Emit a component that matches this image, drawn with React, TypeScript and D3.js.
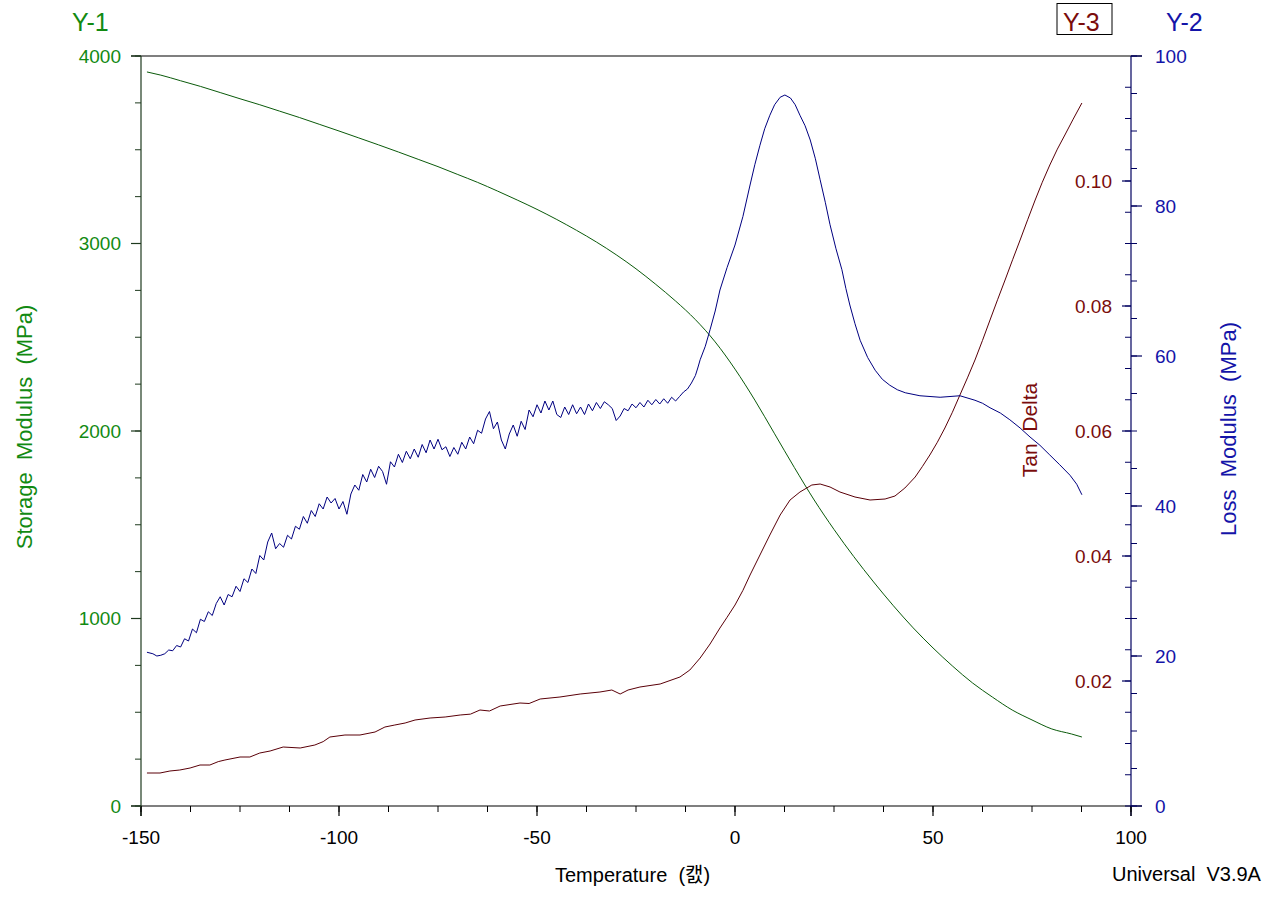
import React from 'react';
import * as d3 from 'd3';

const W = 1269;
const H = 897;

const xTicks = [-150, -100, -50, 0, 50, 100];
const y1Ticks = [0, 1000, 2000, 3000, 4000];
const y2Ticks = [0, 20, 40, 60, 80, 100];
const y3Ticks = [0.02, 0.04, 0.06, 0.08, 0.1];

// Storage modulus (MPa) vs temperature
const storage: [number, number][] = [
  [-148.5, 3915], [-145, 3898], [-140, 3868], [-135, 3838], [-130, 3805], [-125, 3772],
  [-120, 3740], [-115, 3706], [-110, 3672], [-105, 3636], [-100, 3600], [-95, 3563],
  [-90, 3526], [-85, 3488], [-80, 3449], [-75, 3410], [-70, 3368], [-65, 3326],
  [-60, 3280], [-55, 3232], [-50, 3182], [-45, 3128], [-40, 3070], [-35, 3008],
  [-30, 2940], [-25, 2865], [-20, 2782], [-15, 2693], [-10, 2594], [-5, 2475],
  [0, 2330], [5, 2165], [10, 1985], [15, 1805], [20, 1632], [25, 1475], [30, 1330],
  [35, 1195], [40, 1068], [45, 950], [50, 843], [55, 745], [60, 656], [65, 581],
  [70, 512], [75, 459], [80, 411], [85, 384], [87.6, 368],
];

// Loss modulus (MPa) vs temperature
const loss: [number, number][] = [
  [-148.5, 20.5], [-147, 20.3], [-146, 20.0], [-145, 20.1], [-144, 20.3], [-143, 20.8],
  [-142, 20.7], [-141, 21.4], [-140, 21.2], [-139, 22.3], [-138, 22.0], [-137, 23.6],
  [-136, 23.1], [-135, 24.9], [-134, 24.6], [-133, 25.9], [-132, 25.4], [-131, 27.0],
  [-130, 27.9], [-129, 26.8], [-128, 28.2], [-127, 27.9], [-126, 29.3], [-125, 28.6],
  [-124, 30.3], [-123, 29.8], [-122, 31.6], [-121, 31.0], [-120, 33.4], [-119, 32.8],
  [-118, 35.2], [-117, 36.4], [-116, 34.3], [-115, 35.0], [-114, 34.5], [-113, 36.1],
  [-112, 35.6], [-111, 37.3], [-110, 36.9], [-109, 38.6], [-108, 37.7], [-107, 39.4],
  [-106, 38.6], [-105, 40.3], [-104, 39.6], [-103, 41.2], [-102, 40.4], [-101, 41.0],
  [-100, 39.6], [-99, 40.6], [-98, 38.9], [-97, 41.6], [-96, 42.8], [-95, 42.1],
  [-94, 44.2], [-93, 43.2], [-92, 44.9], [-91, 43.8], [-90, 45.3], [-89, 44.6],
  [-88, 42.9], [-87, 45.9], [-86, 45.2], [-85, 46.9], [-84, 45.8], [-83, 47.3],
  [-82, 46.3], [-81, 47.6], [-80, 46.5], [-79, 48.2], [-78, 47.1], [-77, 48.8],
  [-76, 47.6], [-75, 48.9], [-74, 47.5], [-73, 47.9], [-72, 46.6], [-71, 47.8],
  [-70, 46.9], [-69, 48.5], [-68, 47.6], [-67, 49.2], [-66, 48.3], [-65, 50.1],
  [-64, 49.7], [-63, 51.6], [-62, 52.6], [-61, 50.3], [-60, 51.2], [-59, 48.8],
  [-58, 47.6], [-57, 49.6], [-56, 50.8], [-55, 49.3], [-54, 51.3], [-53, 50.2],
  [-52, 52.8], [-51, 51.9], [-50, 53.5], [-49, 52.4], [-48, 54.0], [-47, 52.8],
  [-46, 54.0], [-45, 52.2], [-44, 51.8], [-43, 53.2], [-42, 52.2], [-41, 53.5],
  [-40, 52.3], [-39, 53.2], [-38, 52.2], [-37, 53.6], [-36, 52.7], [-35, 53.8],
  [-34, 53.0], [-33, 53.9], [-32, 53.5], [-31, 53.0], [-30, 51.4], [-29, 52.0],
  [-28, 53.0], [-27, 52.7], [-26, 53.6], [-25, 53.1], [-24, 53.8], [-23, 53.2],
  [-22, 54.1], [-21, 53.5], [-20, 54.2], [-19, 53.6], [-18, 54.3], [-17, 53.7],
  [-16, 54.5], [-15, 54.0], [-14, 54.6], [-13, 55.2], [-12, 55.6], [-11, 56.4],
  [-10, 57.4], [-9.4, 58.4], [-8.8, 59.5], [-7.5, 61.3], [-6.3, 63.5], [-5, 66.0],
  [-3.8, 68.8], [-2, 71.8], [0, 74.8], [2, 78.6], [3.8, 82.8], [5, 85.5], [6.3, 88.1],
  [7.5, 90.3], [8.8, 92.1], [10, 93.5], [11.4, 94.5], [12.6, 94.8], [14, 94.4],
  [15.2, 93.5], [16.4, 92.1], [17.7, 90.7], [19, 88.8], [20.3, 86.3], [21.5, 83.5],
  [22.8, 80.5], [24, 77.5], [25.5, 74.3], [27, 71.5], [28, 69.0], [29, 66.8],
  [30.3, 64.3], [31.6, 62.1], [33.5, 59.8], [35.4, 58.1], [37.2, 56.9], [39.1, 56.1],
  [41, 55.5], [43, 55.1], [46.7, 54.7], [51.8, 54.5], [56.8, 54.7], [60.6, 54.1],
  [62.5, 53.7], [64.4, 53.1], [67, 52.4], [69.4, 51.5], [72, 50.4], [74.5, 49.2],
  [77, 48.1], [79.5, 46.8], [82, 45.5], [84.6, 44.1], [86.3, 42.9], [87.6, 41.5],
];

// Tan delta vs temperature
const tanDelta: [number, number][] = [
  [-148.5, 0.00528], [-145.2, 0.00528], [-142.7, 0.0056], [-140.2, 0.00576],
  [-137.6, 0.00608], [-135.1, 0.00656], [-132.6, 0.00656], [-130.5, 0.0071],
  [-128.8, 0.00736], [-125.0, 0.00784], [-122.5, 0.00784], [-120, 0.00848],
  [-117.4, 0.0088], [-114.1, 0.00944], [-109.8, 0.00928], [-106.1, 0.00976],
  [-104.0, 0.0103], [-102.3, 0.01104], [-98.5, 0.01136], [-94.7, 0.01136],
  [-90.9, 0.01184], [-88.4, 0.01264], [-85.9, 0.01296], [-83.3, 0.01328],
  [-80.8, 0.01376], [-77.0, 0.01408], [-73.2, 0.01424], [-69.4, 0.01456],
  [-66.8, 0.0147], [-64.4, 0.01536], [-62.0, 0.0152], [-59.3, 0.016],
  [-54.3, 0.01648], [-52.0, 0.0164], [-49.2, 0.01712], [-44.2, 0.01744],
  [-39.1, 0.01792], [-34.1, 0.01824], [-31.1, 0.01856], [-29.0, 0.01792],
  [-27.0, 0.01856], [-24.0, 0.01904], [-18.9, 0.01952], [-13.9, 0.02064],
  [-11.4, 0.02176], [-8.8, 0.02368], [-6.3, 0.02592], [-3.8, 0.02848], [-2, 0.0302],
  [0, 0.03216], [2, 0.0345], [3.8, 0.03696], [6.3, 0.04016], [8.8, 0.04336],
  [11.4, 0.04656], [13.9, 0.04896], [16.4, 0.05024], [19.4, 0.05136], [21.5, 0.05152],
  [24.0, 0.05104], [26.5, 0.05024], [30.3, 0.04944], [34.1, 0.04896], [37.9, 0.04912],
  [40.4, 0.0496], [42.9, 0.05088], [45.5, 0.05264], [47.3, 0.0543], [49.2, 0.05616],
  [51.1, 0.0582], [53.0, 0.06048], [54.9, 0.063], [56.8, 0.06576], [58.7, 0.0685],
  [60.6, 0.07136], [62.5, 0.0745], [64.4, 0.07776], [66.3, 0.081], [68.2, 0.08416],
  [70.1, 0.0874], [72.0, 0.09056], [73.9, 0.0938], [75.8, 0.09696], [77.6, 0.0998],
  [79.5, 0.10256], [81.4, 0.1051], [83.3, 0.10736], [85.4, 0.1099], [87.6, 0.11248],
];

const GREEN_TXT = '#128a12';
const GREEN_LINE = '#0a5a0a';
const BLUE_TXT = '#1414a8';
const BLUE_LINE = '#000080';
const RED_TXT = '#7a0c0c';
const RED_LINE = '#5a0008';
const FONT = "'Liberation Sans', Arial, 'Noto Sans CJK KR', sans-serif";

export default function App() {
  const x = d3.scaleLinear().domain([-150, 100]).range([141, 1131]);
  const y1 = d3.scaleLinear().domain([0, 4000]).range([806, 56]);
  const y2 = d3.scaleLinear().domain([0, 100]).range([806, 56]);
  const y3 = d3.scaleLinear().domain([0, 0.12]).range([806, 56]);

  const line1 = d3.line<[number, number]>().x(d => x(d[0])).y(d => y1(d[1])).curve(d3.curveMonotoneX);
  const line2 = d3.line<[number, number]>().x(d => x(d[0])).y(d => y2(d[1])).curve(d3.curveLinear);
  const line3 = d3.line<[number, number]>().x(d => x(d[0])).y(d => y3(d[1])).curve(d3.curveLinear);

  const xMinor = d3.range(-150, 100.001, 12.5);
  const y1Minor = d3.range(0, 4000.001, 250);
  const y2Minor = d3.range(0, 100.001, 5);
  const y3Minor = d3.range(0, 24).map(i => i * 0.005);

  const xl = x(-150), xr = x(100), yb = y1(0), yt = y1(4000);

  return (
    <svg width={W} height={H} style={{ position: 'absolute', left: 0, top: 0, background: '#fff' }} fontFamily={FONT}>
      <rect width={W} height={H} fill="#fff" />
      {/* frame lines */}
      <line x1={xl - 10} x2={xr + 11} y1={yt} y2={yt} stroke="#000" strokeWidth={1.2} />
      <line x1={xl - 10} x2={xr + 11} y1={yb} y2={yb} stroke="#000" strokeWidth={1.2} />
      <line x1={xl} x2={xl} y1={yt} y2={yb + 10} stroke="#1e3a1e" strokeWidth={1.2} />
      <line x1={xr} x2={xr} y1={yt} y2={yb + 10} stroke="#000060" strokeWidth={1.2} />

      {/* x ticks */}
      {xMinor.map(t => (
        <line key={'xm' + t} x1={x(t)} x2={x(t)} y1={yb} y2={yb + 6} stroke="#000" strokeWidth={1} />
      ))}
      {xTicks.map(t => (
        <g key={'x' + t}>
          <line x1={x(t)} x2={x(t)} y1={yb} y2={yb + 10} stroke="#000" strokeWidth={1.2} />
          <text x={x(t)} y={844} textAnchor="middle" fontSize={19} fill="#000">{t}</text>
        </g>
      ))}

      {/* y1 ticks */}
      {y1Minor.map(t => (
        <line key={'y1m' + t} x1={xl - 6} x2={xl} y1={y1(t)} y2={y1(t)} stroke="#1e3a1e" strokeWidth={1} />
      ))}
      {y1Ticks.map(t => (
        <g key={'y1' + t}>
          <line x1={xl - 10} x2={xl} y1={y1(t)} y2={y1(t)} stroke="#1e3a1e" strokeWidth={1.2} />
          <text x={121} y={y1(t)} dy="0.36em" textAnchor="end" fontSize={19} fill={GREEN_TXT}>{t}</text>
        </g>
      ))}

      {/* y2 ticks (right side, outward) */}
      {y2Minor.map(t => (
        <line key={'y2m' + t} x1={xr} x2={xr + 6} y1={y2(t)} y2={y2(t)} stroke="#000060" strokeWidth={1} />
      ))}
      {y2Ticks.map(t => (
        <g key={'y2' + t}>
          <line x1={xr} x2={xr + 11} y1={y2(t)} y2={y2(t)} stroke="#000060" strokeWidth={1.2} />
          <text x={1155} y={y2(t)} dy="0.36em" textAnchor="start" fontSize={19} fill={BLUE_TXT}>{t}</text>
        </g>
      ))}

      {/* y3 ticks (right side, inward) */}
      {y3Minor.map(t => (
        <line key={'y3m' + t} x1={xr - 6} x2={xr} y1={y3(t)} y2={y3(t)} stroke="#000060" strokeWidth={1} />
      ))}
      {y3Ticks.map(t => (
        <g key={'y3' + t}>
          <line x1={xr - 9} x2={xr} y1={y3(t)} y2={y3(t)} stroke="#000060" strokeWidth={1.2} />
          <text x={1112} y={y3(t)} dy="0.36em" textAnchor="end" fontSize={19} fill={RED_TXT}>{t.toFixed(2)}</text>
        </g>
      ))}

      {/* data lines */}
      <path d={line1(storage) || ''} fill="none" stroke={GREEN_LINE} strokeWidth={1} />
      <path d={line3(tanDelta) || ''} fill="none" stroke={RED_LINE} strokeWidth={1} />
      <path d={line2(loss) || ''} fill="none" stroke={BLUE_LINE} strokeWidth={1} />

      {/* axis titles */}
      <text x={72} y={31} fontSize={25} fill={GREEN_TXT}>Y-1</text>
      <rect x={1057} y={3.5} width={55} height={31} fill="none" stroke="#000" strokeWidth={1} />
      <text x={1063} y={31} fontSize={25} fill={RED_TXT}>Y-3</text>
      <text x={1166} y={31} fontSize={25} fill={BLUE_TXT}>Y-2</text>

      <text transform="translate(32,427) rotate(-90)" textAnchor="middle" fontSize={22} fill={GREEN_TXT} style={{ whiteSpace: 'pre' }}>Storage  Modulus  (MPa)</text>
      <text transform="translate(1236,429) rotate(-90)" textAnchor="middle" fontSize={22} fill={BLUE_TXT} style={{ whiteSpace: 'pre' }}>Loss  Modulus  (MPa)</text>
      <text transform="translate(1037,430) rotate(-90)" textAnchor="middle" fontSize={21} fill={RED_TXT} style={{ whiteSpace: 'pre' }}>Tan  Delta</text>

      <text x={555} y={882} fontSize={20} fill="#000" style={{ whiteSpace: 'pre' }}>Temperature  (캜)</text>
      <text x={1112} y={881} fontSize={20} fill="#000" style={{ whiteSpace: 'pre' }}>Universal  V3.9A</text>
    </svg>
  );
}
